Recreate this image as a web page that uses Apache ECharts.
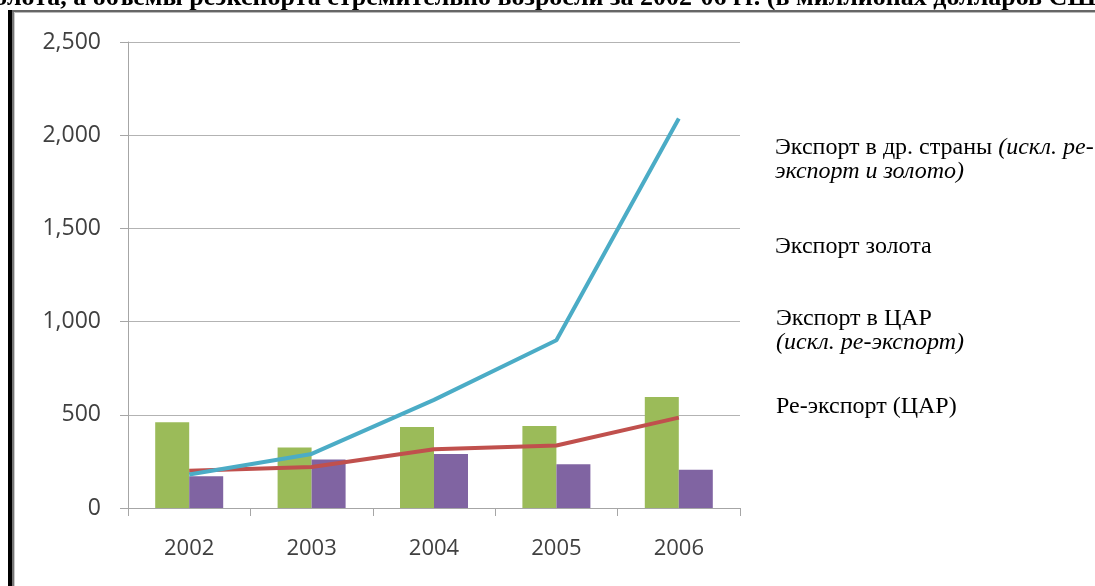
<!DOCTYPE html>
<html>
<head>
<meta charset="utf-8">
<title>Экспорт</title>
<script src="https://cdn.jsdelivr.net/npm/echarts@6/dist/echarts.min.js"></script>
<style>
  html, body { margin: 0; padding: 0; background: #fff; }
  #main { width: 1095px; height: 586px; }
</style>
</head>
<body>
<div id="main"></div>
<script>
// данные (млн долл. США)
var years = ['2002', '2003', '2004', '2005', '2006'];
var otherExport = [460, 325, 435, 440, 595];   // Экспорт в др. страны
var goldExport = [170, 260, 290, 235, 205];    // Экспорт золота
var carExport = [200, 220, 315, 335, 485];     // Экспорт в ЦАР
var reExport = [180, 290, 580, 900, 2090];     // Ре-экспорт (ЦАР)
var yTicks = [0, 500, 1000, 1500, 2000, 2500];

var names = [
  'Экспорт в др. страны (искл. ре-экспорт и золото)',
  'Экспорт золота',
  'Экспорт в ЦАР (искл. ре-экспорт)',
  'Ре-экспорт (ЦАР)'
];
var legendText = {};
legendText[names[0]] = '{n|Экспорт в др. страны }{i|(искл. ре-}\n{i|экспорт и золото)}';
legendText[names[1]] = '{n|Экспорт золота}';
legendText[names[2]] = '{n|Экспорт в ЦАР}\n{i|(искл. ре-экспорт)}';
legendText[names[3]] = '{n|Ре-экспорт (ЦАР)}';

var serif = '"Liberation Serif", "DejaVu Serif", serif';
var legendTops = [136, 235, 307, 395];

function makeLegend(name, top) {
  return {
    data: [name],
    left: 770,
    top: top,
    padding: 0,
    itemWidth: 0,
    itemHeight: 0,
    selectedMode: false,
    formatter: function (n) { return legendText[n]; },
    textStyle: {
      color: '#000',
      fontFamily: serif,
      fontSize: 24,
      lineHeight: 24,
      rich: {
        n: { fontFamily: serif, fontSize: 24, lineHeight: 24, color: '#000' },
        i: { fontFamily: serif, fontSize: 24, lineHeight: 24, color: '#000', fontStyle: 'italic' }
      }
    }
  };
}

var chart = echarts.init(document.getElementById('main'));
var option = {
  backgroundColor: '#fff',
  animation: false,
  grid: { left: 128, right: 355, top: 42, bottom: 78 },
  legend: names.map(function (n, i) { return makeLegend(n, legendTops[i]); }),
  xAxis: {
    type: 'category',
    data: years,
    boundaryGap: true,
    axisLine: { lineStyle: { color: '#a6a6a6', width: 1 } },
    axisTick: { show: true, length: 8, lineStyle: { color: '#a6a6a6' } },
    axisLabel: { color: '#404040', fontSize: 22, fontFamily: '"Open Sans", sans-serif', margin: 30 }
  },
  yAxis: {
    type: 'value',
    min: yTicks[0],
    max: yTicks[yTicks.length - 1],
    interval: 500,
    axisLine: { show: true, lineStyle: { color: '#a6a6a6', width: 1 } },
    axisTick: { show: true, length: 8, lineStyle: { color: '#a6a6a6' } },
    splitLine: { lineStyle: { color: '#b3b3b3', width: 1 } },
    axisLabel: {
      color: '#404040', fontSize: 23, fontFamily: '"Open Sans", sans-serif', margin: 27,
      formatter: function (v) { return v.toLocaleString('en-US'); }
    }
  },
  series: [
    {
      name: names[0], type: 'bar', data: otherExport,
      barWidth: 34, barGap: '0%',
      itemStyle: { color: '#9bbb59' }
    },
    {
      name: names[1], type: 'bar', data: goldExport,
      barWidth: 34, barGap: '0%',
      itemStyle: { color: '#8064a2' }
    },
    {
      name: names[2], type: 'line', data: carExport,
      symbol: 'none', z: 3,
      lineStyle: { color: '#c0504d', width: 4 },
      itemStyle: { color: '#c0504d' }
    },
    {
      name: names[3], type: 'line', data: reExport,
      symbol: 'none', z: 4,
      lineStyle: { color: '#4bacc6', width: 4 },
      itemStyle: { color: '#4bacc6' }
    }
  ],
  graphic: [
    {
      type: 'text', left: -16, top: -15, z: 1,
      style: {
        text: 'золота, а объемы реэкспорта стремительно возросли за 2002-06 гг. (в миллионах долларов США)',
        font: 'bold 26px ' + serif,
        fill: '#000'
      }
    },
    // рамка вставленного рисунка
    { type: 'rect', shape: { x: 8, y: 10, width: 1087, height: 2 }, style: { fill: '#666' }, z: 10 },
    { type: 'rect', shape: { x: 8, y: 12, width: 1087, height: 1 }, style: { fill: '#bbb' }, z: 10 },
    { type: 'rect', shape: { x: 8, y: 10, width: 4, height: 576 }, style: { fill: '#000' }, z: 10 },
    { type: 'rect', shape: { x: 12, y: 12, width: 2, height: 574 }, style: { fill: '#777' }, z: 10 },
    { type: 'rect', shape: { x: 14, y: 12, width: 1, height: 574 }, style: { fill: '#ccc' }, z: 10 }
  ]
};
chart.setOption(option);
</script>
</body>
</html>
